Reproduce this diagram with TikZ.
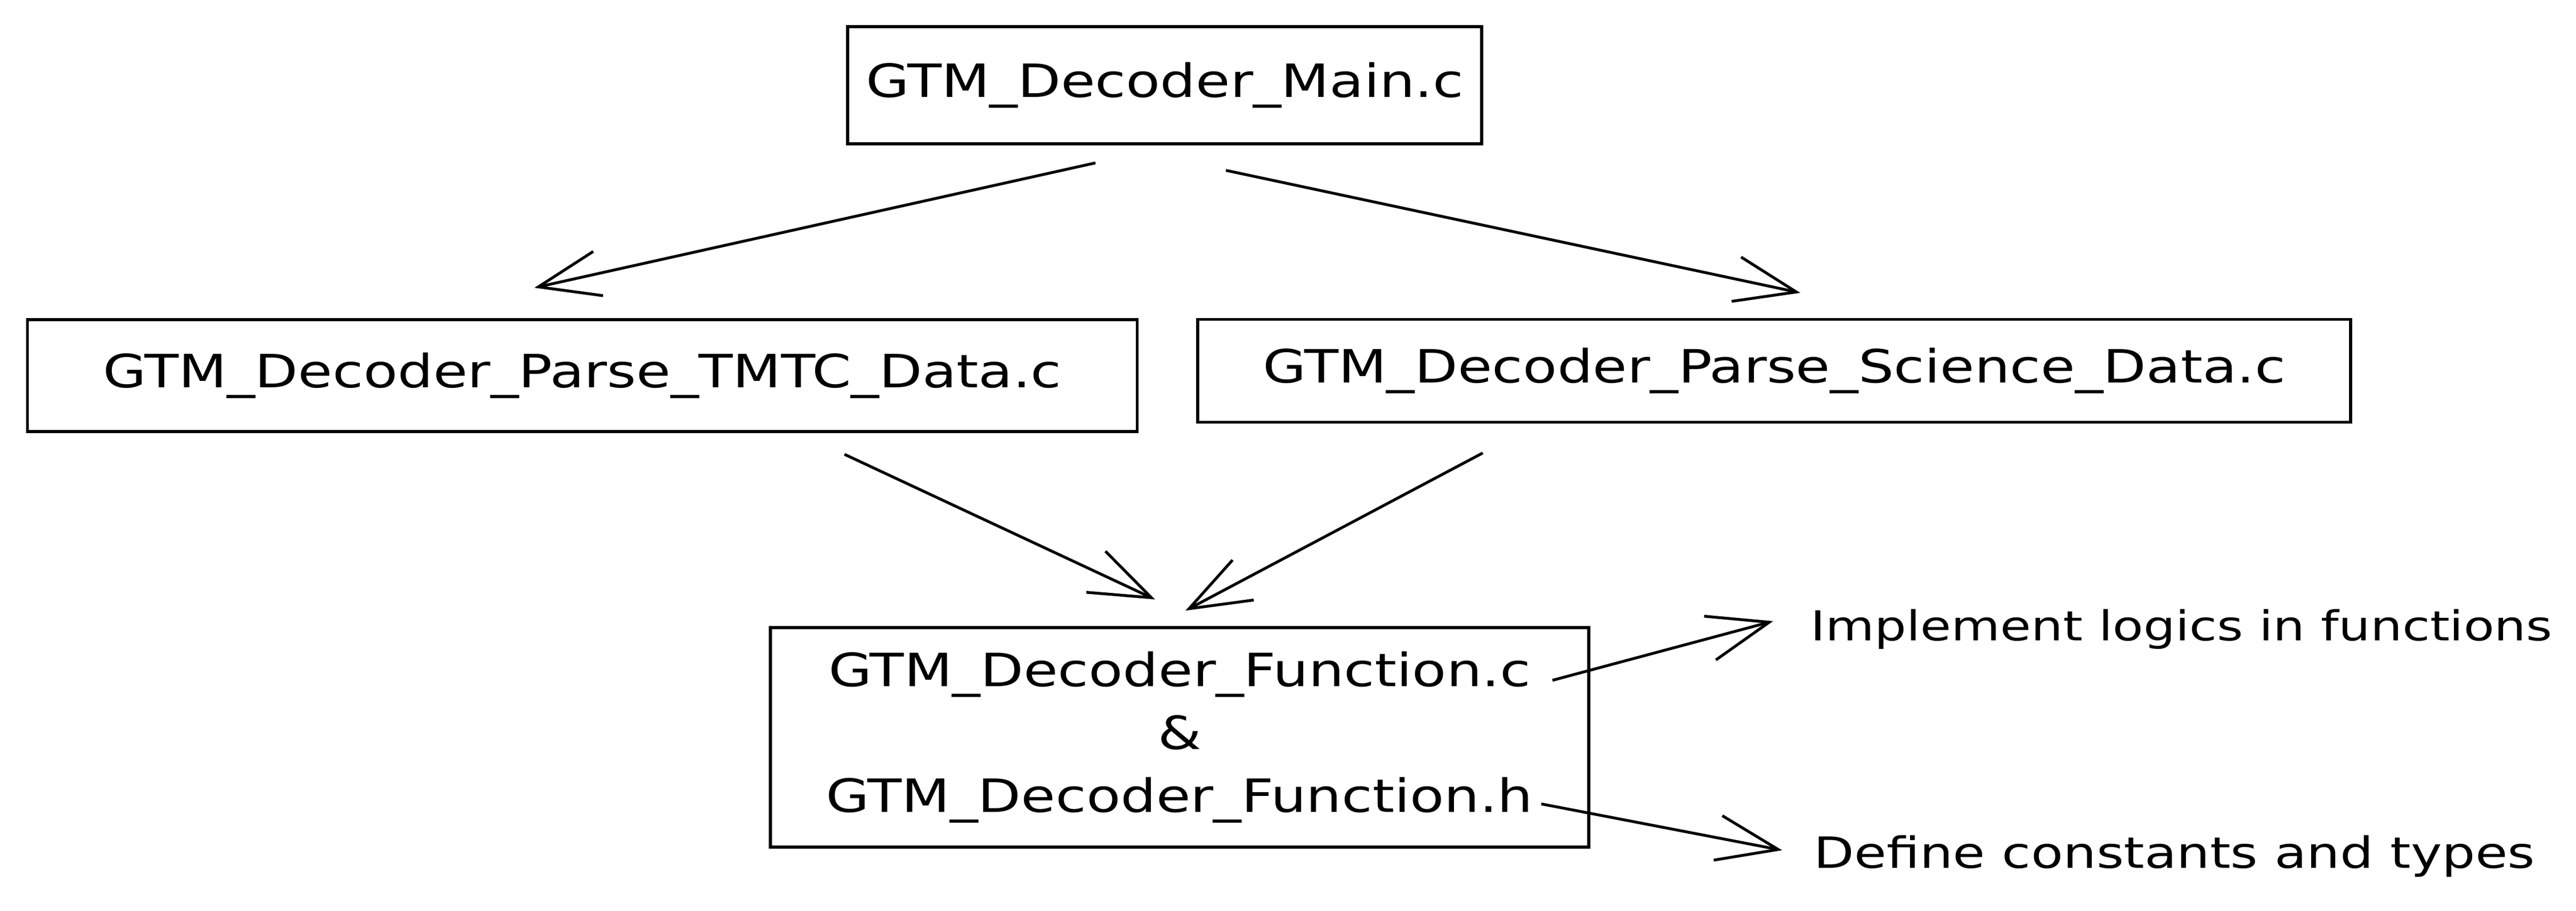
\documentclass[tikz,border=0pt]{standalone}
\usepackage{fontspec}
\setmainfont[FakeStretch=1.22]{DejaVu Sans}
\usepackage{tikz}
\usetikzlibrary{arrows.meta, positioning}

\begin{document}
\begin{tikzpicture}[
    filebox/.style={rectangle, draw, line width=1.6pt, inner sep=0pt, align=center,
                    font=\fontsize{24.5}{33.5}\selectfont},
    note/.style={anchor=base west, inner sep=0pt, font=\fontsize{22}{30}\selectfont},
    arr/.style={-{Straight Barb[length=1.15cm, width=0.85cm, line width=1.5pt]}, line width=1.5pt}]

    \useasboundingbox (0,0) rectangle (48.35,17.10);

    % Files
    \node[filebox, minimum width=11.90cm, minimum height=2.20cm] (main) at (21.86, 15.50) {GTM\_Decoder\_Main.c};
    \node[filebox, minimum width=20.83cm, minimum height=2.10cm] (tmtc) at (10.93, 10.05) {GTM\_Decoder\_Parse\_TMTC\_Data.c};
    \node[filebox, minimum width=21.64cm, minimum height=1.93cm] (science) at (33.30, 10.14) {GTM\_Decoder\_Parse\_Science\_Data.c};
    \node[filebox, minimum width=15.36cm, minimum height=4.12cm] (func) at (22.14, 3.26)
        {GTM\_Decoder\_Function.c\\\&\\GTM\_Decoder\_Function.h};

    % Notes
    \node[note] (impl) at (33.98, 5.07) {Implement logics in functions};
    \node[note, font=\fontsize{23}{30}\selectfont] (define) at (34.04, 0.80) {Define constants and types};

    % Arrows
    \draw[arr] ([xshift=-1.30cm, yshift=-0.33cm]main.south) -- ([xshift=-0.90cm, yshift=0.57cm]tmtc.north);
    \draw[arr] ([xshift=1.15cm, yshift=-0.47cm]main.south) -- ([xshift=0.49cm, yshift=0.47cm]science.north);
    \draw[arr] ([xshift=4.92cm, yshift=-0.40cm]tmtc.south) -- ([xshift=-0.46cm, yshift=0.50cm]func.north);
    \draw[arr] ([xshift=-5.47cm, yshift=-0.55cm]science.south) -- ([xshift=0.11cm, yshift=0.29cm]func.north);
    \draw[arr] ([xshift=-0.71cm, yshift=1.07cm]func.east) -- ([xshift=-0.70cm, yshift=0.37cm]impl.base west);
    \draw[arr] ([xshift=-0.92cm, yshift=-1.25cm]func.east) -- ([xshift=-0.59cm, yshift=0.34cm]define.base west);
\end{tikzpicture}
\end{document}
